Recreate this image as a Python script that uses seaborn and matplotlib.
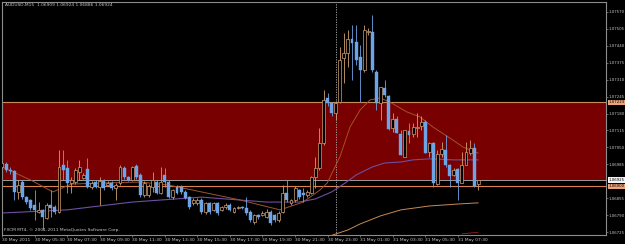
import numpy as np
import pandas as pd
import matplotlib
matplotlib.use("Agg")
import matplotlib.pyplot as plt
import matplotlib.transforms as mtransforms
import seaborn as sns

# ---------------- data (AUDUSD M15, 30 May 2011 03:30 -> 31 May 2011 08:45) ----------------
opens = [1.06975, 1.06985, 1.06963, 1.06960, 1.06879, 1.06917, 1.06859, 1.06848, 1.06829, 1.06802,
         1.06810, 1.06779, 1.06829, 1.06821, 1.06802, 1.06982, 1.06971, 1.06913, 1.06917, 1.06955,
         1.06932, 1.06967, 1.06898, 1.06917, 1.06898, 1.06921, 1.06905, 1.06913, 1.06894, 1.06913,
         1.06971, 1.06936, 1.06925, 1.06979, 1.06944, 1.06867, 1.06867, 1.06898, 1.06917, 1.06875,
         1.06944, 1.06917, 1.06859, 1.06898, 1.06898, 1.06879, 1.06859, 1.06836, 1.06836, 1.06848,
         1.06802, 1.06836, 1.06810, 1.06836, 1.06810, 1.06821, 1.06829, 1.06802, 1.06817, 1.06821,
         1.06817, 1.06802, 1.06763, 1.06790, 1.06790, 1.06783, 1.06802, 1.06790, 1.06771, 1.06802,
         1.06875, 1.06836, 1.06848, 1.06886, 1.06875, 1.06867, 1.06875, 1.06936, 1.06971, 1.07067,
         1.07240, 1.07221, 1.07182, 1.07224, 1.07393, 1.07413, 1.07466, 1.07455, 1.07397, 1.07347,
         1.07493, 1.07493, 1.07340, 1.07221, 1.07278, 1.07247, 1.07125, 1.07159, 1.07101, 1.07013,
         1.07113, 1.07101, 1.07125, 1.07132, 1.07148, 1.07032, 1.07067, 1.06909, 1.07025, 1.07040,
         1.06982, 1.06944, 1.06967, 1.06913, 1.06982, 1.07029, 1.07048, 1.06909]
highs = [1.06995, 1.06992, 1.06975, 1.06965, 1.06925, 1.06925, 1.06865, 1.06852, 1.06886, 1.06840,
         1.06815, 1.06836, 1.06886, 1.06830, 1.07040, 1.07040, 1.07002, 1.06936, 1.06970, 1.07002,
         1.06950, 1.07010, 1.06920, 1.06925, 1.06936, 1.06930, 1.06920, 1.06920, 1.06913, 1.06982,
         1.06980, 1.06940, 1.06980, 1.06985, 1.06950, 1.06920, 1.06910, 1.06955, 1.06925, 1.06975,
         1.06971, 1.06925, 1.06892, 1.06905, 1.06905, 1.06885, 1.06865, 1.06855, 1.06855, 1.06855,
         1.06840, 1.06840, 1.06840, 1.06840, 1.06825, 1.06835, 1.06835, 1.06822, 1.06825, 1.06825,
         1.06859, 1.06810, 1.06795, 1.06795, 1.06805, 1.06815, 1.06808, 1.06795, 1.06805, 1.06905,
         1.06925, 1.06852, 1.06900, 1.06892, 1.06894, 1.06886, 1.06940, 1.07013, 1.07125, 1.07270,
         1.07260, 1.07225, 1.07230, 1.07436, 1.07489, 1.07501, 1.07520, 1.07520, 1.07443, 1.07520,
         1.07510, 1.07558, 1.07347, 1.07282, 1.07309, 1.07250, 1.07182, 1.07171, 1.07117, 1.07117,
         1.07144, 1.07144, 1.07182, 1.07171, 1.07155, 1.07071, 1.07071, 1.07040, 1.07071, 1.07098,
         1.06985, 1.06970, 1.06970, 1.07032, 1.07071, 1.07078, 1.07067, 1.06924]
lows = [1.06970, 1.06955, 1.06948, 1.06848, 1.06850, 1.06850, 1.06833, 1.06810, 1.06771, 1.06798,
        1.06733, 1.06775, 1.06783, 1.06795, 1.06798, 1.06925, 1.06875, 1.06875, 1.06910, 1.06925,
        1.06928, 1.06894, 1.06890, 1.06894, 1.06829, 1.06886, 1.06900, 1.06886, 1.06848, 1.06905,
        1.06930, 1.06920, 1.06920, 1.06930, 1.06860, 1.06860, 1.06860, 1.06880, 1.06870, 1.06870,
        1.06898, 1.06855, 1.06852, 1.06870, 1.06872, 1.06850, 1.06815, 1.06830, 1.06830, 1.06795,
        1.06795, 1.06795, 1.06805, 1.06790, 1.06805, 1.06815, 1.06805, 1.06798, 1.06812, 1.06812,
        1.06790, 1.06765, 1.06755, 1.06775, 1.06785, 1.06779, 1.06752, 1.06765, 1.06765, 1.06798,
        1.06840, 1.06830, 1.06840, 1.06852, 1.06840, 1.06860, 1.06870, 1.06894, 1.06963, 1.07060,
        1.07210, 1.07170, 1.07155, 1.07220, 1.07297, 1.07359, 1.07309, 1.07366, 1.07224, 1.07340,
        1.07480, 1.07340, 1.07194, 1.07155, 1.07244, 1.07115, 1.07109, 1.07105, 1.07021, 1.07013,
        1.07067, 1.07090, 1.07090, 1.07117, 1.07029, 1.07013, 1.06898, 1.06905, 1.07013, 1.06975,
        1.06898, 1.06940, 1.06848, 1.06913, 1.06982, 1.07021, 1.06898, 1.06886]
closes = [1.06990, 1.06963, 1.06958, 1.06879, 1.06905, 1.06859, 1.06840, 1.06817, 1.06810, 1.06810,
          1.06783, 1.06829, 1.06817, 1.06802, 1.06975, 1.06963, 1.06913, 1.06925, 1.06963, 1.06975,
          1.06944, 1.06898, 1.06913, 1.06898, 1.06921, 1.06894, 1.06913, 1.06894, 1.06905, 1.06975,
          1.06936, 1.06925, 1.06975, 1.06936, 1.06867, 1.06913, 1.06902, 1.06925, 1.06875, 1.06917,
          1.06917, 1.06859, 1.06886, 1.06875, 1.06879, 1.06856, 1.06821, 1.06848, 1.06848, 1.06802,
          1.06836, 1.06802, 1.06836, 1.06798, 1.06821, 1.06829, 1.06810, 1.06817, 1.06821, 1.06817,
          1.06798, 1.06771, 1.06790, 1.06783, 1.06798, 1.06802, 1.06760, 1.06771, 1.06798, 1.06875,
          1.06848, 1.06848, 1.06894, 1.06859, 1.06867, 1.06879, 1.06936, 1.06971, 1.07067, 1.07232,
          1.07221, 1.07182, 1.07221, 1.07386, 1.07413, 1.07466, 1.07451, 1.07386, 1.07347, 1.07501,
          1.07497, 1.07347, 1.07221, 1.07282, 1.07251, 1.07121, 1.07159, 1.07105, 1.07021, 1.07117,
          1.07098, 1.07128, 1.07128, 1.07148, 1.07029, 1.07067, 1.06913, 1.07025, 1.07044, 1.06982,
          1.06940, 1.06963, 1.06913, 1.06982, 1.07032, 1.07048, 1.06902, 1.06924]

# moving-average traces (bar index, price)
ma_fast_idx = [0, 7, 12.5, 17, 24, 34, 41, 49, 58.5, 68.3, 74, 78.1, 79.9, 83, 85.5, 88, 90.4, 92.9,
               95.3, 99.5, 102.7, 105.9, 110.8, 113.3, 117]
ma_fast_val = [1.06975, 1.06925, 1.06879, 1.06909, 1.06913, 1.06917, 1.06905, 1.06879, 1.06848, 1.06810,
               1.06840, 1.06886, 1.06913, 1.07013, 1.07128, 1.07194, 1.07232, 1.07240, 1.07224, 1.07186,
               1.07167, 1.07128, 1.07078, 1.07051, 1.07028]
ma_mid_idx = [0, 16, 32, 49, 65, 73, 77, 81, 84.3, 87, 91, 94, 98, 101, 105, 111, 117]
ma_mid_val = [1.06798, 1.06810, 1.06840, 1.06859, 1.06840, 1.06840, 1.06852, 1.06879, 1.06913, 1.06944,
              1.06975, 1.06990, 1.06994, 1.07002, 1.07006, 1.07002, 1.07002]
ma_slow_idx = [78, 80.6, 85, 88, 93, 98, 105, 112.5, 117]
ma_slow_val = [1.06690, 1.06710, 1.06733, 1.06756, 1.06787, 1.06810, 1.06825, 1.06833, 1.06837]
sig_idx = [113, 117]
sig_val = [1.06718, 1.06724]

y_ticks = [1.07570, 1.07505, 1.07440, 1.07375, 1.07310, 1.07245, 1.07180, 1.07115,
           1.07050, 1.06985, 1.06855, 1.06790, 1.06725]
x_tick_idx = [0, 8, 16, 24, 32, 40, 48, 56, 64, 72, 80, 88, 96, 104, 112]
x_tick_lab = ["30 May 2011", "30 May 05:30", "30 May 07:30", "30 May 09:30", "30 May 11:30",
              "30 May 13:30", "30 May 15:30", "30 May 17:30", "30 May 19:30", "30 May 21:30",
              "30 May 23:30", "31 May 01:30", "31 May 03:30", "31 May 05:30", "31 May 07:30"]

zone_top = 1.07223
zone_bottom = 1.06920
bid_price = 1.06925
level_line = 1.06900
separator_idx = 82

# ---------------- style ----------------
sns.set_theme(style="dark")
plt.rcParams["font.family"] = ["DejaVu Sans"]
BG = "#000000"
FG = "#C8C8C8"
BULL = "#D2A06E"
BEAR = "#6EA3E6"
fs = 3.2
fs_r = 2.8

fig = plt.figure(figsize=(6.25, 2.44), dpi=100, facecolor=BG)
ax = fig.add_axes([2 / 625, 9 / 244, 604 / 625, 233 / 244])
ax.set_facecolor(BG)

# zone
ax.axhspan(zone_bottom, zone_top, color="#780000", lw=0, zorder=0)
ax.axhline(zone_top, color="#C88C5A", lw=0.8, zorder=1)
ax.axhline(bid_price, color="#9A9A9A", lw=0.7, zorder=1)
ax.axhline(level_line, color="#D9804C", lw=0.8, zorder=1)
ax.axvline(separator_idx, color="#B0B0B0", lw=0.6, ls=(0, (1.5, 1.5)), zorder=1)

# moving averages via seaborn
df_fast = pd.DataFrame({"i": ma_fast_idx, "p": ma_fast_val})
df_mid = pd.DataFrame({"i": ma_mid_idx, "p": ma_mid_val})
df_slow = pd.DataFrame({"i": ma_slow_idx, "p": ma_slow_val})
df_sig = pd.DataFrame({"i": sig_idx, "p": sig_val})
sns.lineplot(data=df_mid, x="i", y="p", ax=ax, color="#6E4FA0", lw=0.8, zorder=2)
sns.lineplot(data=df_slow, x="i", y="p", ax=ax, color="#C98A4E", lw=0.7, zorder=2)
sns.lineplot(data=df_fast, x="i", y="p", ax=ax, color="#A0522D", lw=0.7, zorder=2)
sns.lineplot(data=df_sig, x="i", y="p", ax=ax, color="#8B1A1A", lw=0.7, zorder=2)

# candles
idx = np.arange(len(opens))
o = np.array(opens); h = np.array(highs); l = np.array(lows); c = np.array(closes)
bull = c >= o
wick_col = [BULL if b else BEAR for b in bull]
ax.vlines(idx, l, h, colors=wick_col, lw=0.6, zorder=3)
body_lo = np.minimum(o, c)
body_h = np.maximum(np.abs(c - o), 0.000015)
ax.bar(idx[bull], body_h[bull], bottom=body_lo[bull], width=0.72,
       facecolor=BG, edgecolor=BULL, linewidth=0.5, zorder=4)
ax.bar(idx[~bull], body_h[~bull], bottom=body_lo[~bull], width=0.72,
       facecolor=BEAR, edgecolor=BEAR, linewidth=0.3, zorder=4)

ax.set_xlim(0, 148.4)
ax.set_ylim(1.067135, 1.076084)
ax.set_xlabel(""); ax.set_ylabel("")
ax.grid(False)

# axes
for s in ax.spines.values():
    s.set_visible(True)
    s.set_color("#8C8C8C")
    s.set_linewidth(0.8)
ax.yaxis.tick_right()
ax.set_yticks(y_ticks)
ax.set_yticklabels([f"{v:.5f}" for v in y_ticks])
ax.tick_params(axis="y", which="both", right=True, left=False, length=1.2, width=0.5,
               color="#8C8C8C", labelsize=fs_r, labelcolor=FG, pad=0.8)
ax.set_xticks(x_tick_idx)
ax.set_xticklabels(x_tick_lab)
ax.tick_params(axis="x", which="both", bottom=True, length=1.5, width=0.5,
               color="#8C8C8C", labelsize=fs, labelcolor=FG, pad=1.0)
for t in ax.get_xticklabels():
    t.set_horizontalalignment("left")

# price labels on the right
trans = mtransforms.blended_transform_factory(ax.transAxes, ax.transData)
for val, fc in [(zone_top, "#F0A47A"), (bid_price, "#F2F2F2"), (level_line, "#F0A47A")]:
    ax.text(1.0035, val, f"{val:.5f}", transform=trans, fontsize=fs_r, color="#000000",
            va="center", ha="left", clip_on=False, zorder=10,
            bbox=dict(boxstyle="square,pad=0.15", fc=fc, ec="none"))

# header and copyright
fig.text(5 / 625, 1 - 5 / 244, "AUDUSD,M15  1.06909 1.06924 1.06886 1.06924", fontsize=fs,
         color=FG, va="center", ha="left")
fig.text(4 / 625, 1 - 230 / 244, "FXCM MT4, \u00a9 2001-2011 MetaQuotes Software Corp.", fontsize=fs,
         color=FG, va="center", ha="left")

fig.savefig("out.png", dpi=100, facecolor=BG)
